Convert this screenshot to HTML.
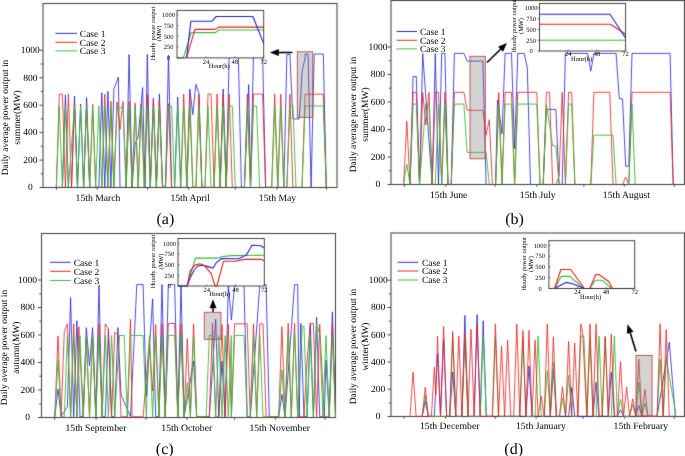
<!DOCTYPE html>
<html><head><meta charset="utf-8"><style>
html,body{margin:0;padding:0;background:#fff;}
svg{display:block;font-family:"Liberation Serif", serif;text-rendering:geometricPrecision;} text{}
</style></head><body>
<svg width="685" height="456" viewBox="0 0 685 456">
<defs><filter id="soft" x="0" y="0" width="685" height="456" filterUnits="userSpaceOnUse" color-interpolation-filters="sRGB"><feConvolveMatrix order="3" kernelMatrix="0.0100 0.0800 0.0100 0.0800 0.6400 0.0800 0.0100 0.0800 0.0100" divisor="1" edgeMode="duplicate"/></filter><filter id="ident" x="0" y="0" width="685" height="456" filterUnits="userSpaceOnUse"><feOffset dx="0" dy="0"/></filter></defs>
<g filter="url(#soft)">
<rect width="685" height="456" fill="#fff"/>
<polyline points="56.3,187.4 59.3,187.4 62.4,187.4 65.4,94.9 68.4,187.4 71.5,187.4 74.5,96.0 77.5,187.4 80.6,104.0 83.6,187.4 86.6,97.5 89.7,187.4 98.8,187.4 101.8,92.7 104.8,187.4 107.9,91.3 110.9,187.4 113.9,89.0 118.4,77.0 120.0,187.4 123.0,187.4 126.1,187.4 129.1,54.5 132.1,187.4 135.2,143.0 138.2,136.9 142.6,87.6 145.0,187.4 147.3,54.5 150.3,187.4 153.4,98.2 156.4,187.4 159.4,93.9 162.5,187.4 165.5,187.4 168.5,55.3 171.6,187.4 174.6,187.4 177.7,97.1 180.7,187.4 186.8,187.4 189.8,89.0 192.8,114.6 195.9,84.4 198.9,92.7 201.9,187.4 205.0,187.4 220.1,187.4 223.2,89.0 226.2,187.4 229.2,54.0 238.3,54.0 241.4,187.4 244.4,187.4 248.7,84.6 250.5,187.4 253.5,54.0 262.6,54.0 265.6,187.4 283.8,187.4 286.9,54.5 289.9,54.5 292.9,119.0 299.0,119.0 300.6,100.0 302.0,72.0 305.1,58.0 305.1,54.0 308.1,54.0 311.1,187.4 311.1,187.4 314.2,54.0 323.3,54.0 326.3,187.4" fill="none" stroke="#2020dd" stroke-width="0.8" stroke-linejoin="round"/>
<polyline points="56.3,187.4 59.3,94.2 62.4,94.2 65.4,187.4 68.4,94.2 71.5,187.4 74.5,103.0 77.5,187.4 83.6,187.4 86.6,103.0 89.7,187.4 92.7,104.3 95.7,187.4 101.8,187.4 104.8,94.2 107.9,187.4 110.9,101.2 113.9,187.4 117.0,102.0 120.0,129.4 123.0,101.4 126.1,187.4 129.1,101.2 132.1,187.4 135.2,103.1 138.2,187.4 141.2,103.9 144.3,187.4 147.3,94.3 150.3,187.4 153.4,99.0 156.4,187.4 159.4,100.0 162.5,187.4 165.5,184.5 168.5,103.7 171.6,187.4 180.7,187.4 183.7,94.2 186.8,187.4 189.8,94.2 192.8,187.4 195.9,187.4 198.9,94.2 201.9,187.4 205.0,187.4 208.0,94.0 211.0,94.0 214.1,187.4 217.1,94.0 220.1,187.4 223.2,94.0 226.2,187.4 229.2,94.0 232.3,187.4 244.4,187.4 247.4,94.0 250.5,187.4 253.5,94.0 262.6,94.0 265.6,187.4 271.7,187.4 274.7,94.2 277.8,187.4 280.8,94.2 283.8,187.4 286.9,187.4 289.9,94.2 292.9,187.4 302.0,187.4 305.1,94.2 323.3,94.2 326.3,187.4" fill="none" stroke="#ee1a1a" stroke-width="0.8" stroke-linejoin="round"/>
<polyline points="56.3,187.4 59.3,106.0 62.4,187.4 65.4,106.0 68.4,187.4 74.5,106.0 77.5,187.4 80.6,106.0 83.6,187.4 86.6,106.0 89.7,187.4 92.7,106.0 95.7,187.4 98.8,106.0 101.8,187.4 104.8,106.0 107.9,187.4 110.9,106.0 113.9,187.4 117.0,106.0 120.0,108.2 123.0,106.0 126.1,187.4 129.1,106.0 132.1,187.4 135.2,106.0 138.2,187.4 141.2,106.0 144.3,187.4 147.3,106.0 150.3,187.4 153.4,106.0 156.4,187.4 159.4,106.0 162.5,187.4 165.5,187.4 168.5,106.0 171.6,106.0 174.6,187.4 177.7,106.0 180.7,187.4 183.7,106.0 186.8,187.4 189.8,106.0 192.8,187.4 195.9,187.4 198.9,106.0 201.9,187.4 205.0,187.4 208.0,106.0 211.0,187.4 214.1,187.4 217.1,106.0 220.1,187.4 223.2,106.0 226.2,187.4 229.2,106.0 232.3,106.0 235.3,187.4 244.4,187.4 247.4,106.0 250.5,187.4 253.5,106.0 256.5,106.0 259.6,187.4 271.7,187.4 274.7,106.0 277.8,187.4 280.8,106.0 283.8,187.4 286.9,187.4 289.9,106.0 292.9,106.0 296.0,187.4 302.0,187.4 305.1,106.0 323.3,106.0 326.3,187.4" fill="none" stroke="#38bb38" stroke-width="0.9" stroke-linejoin="round"/>
<rect x="297.3" y="51.8" width="15.4" height="65.6" fill="#7a7a7a" fill-opacity="0.33" stroke="#c04848" stroke-width="0.9"/>
<rect x="43.0" y="3.5" width="294.0" height="184.0" fill="none" stroke="#4a4a4a" stroke-width="1.1"/>
<line x1="39.5" y1="187.5" x2="43.0" y2="187.5" stroke="#4a4a4a" stroke-width="1"/>
<line x1="40.8" y1="173.8" x2="43.0" y2="173.8" stroke="#4a4a4a" stroke-width="1"/>
<line x1="39.5" y1="160.1" x2="43.0" y2="160.1" stroke="#4a4a4a" stroke-width="1"/>
<line x1="40.8" y1="146.3" x2="43.0" y2="146.3" stroke="#4a4a4a" stroke-width="1"/>
<line x1="39.5" y1="132.6" x2="43.0" y2="132.6" stroke="#4a4a4a" stroke-width="1"/>
<line x1="40.8" y1="118.9" x2="43.0" y2="118.9" stroke="#4a4a4a" stroke-width="1"/>
<line x1="39.5" y1="105.2" x2="43.0" y2="105.2" stroke="#4a4a4a" stroke-width="1"/>
<line x1="40.8" y1="91.4" x2="43.0" y2="91.4" stroke="#4a4a4a" stroke-width="1"/>
<line x1="39.5" y1="77.7" x2="43.0" y2="77.7" stroke="#4a4a4a" stroke-width="1"/>
<line x1="40.8" y1="64.0" x2="43.0" y2="64.0" stroke="#4a4a4a" stroke-width="1"/>
<line x1="39.5" y1="50.3" x2="43.0" y2="50.3" stroke="#4a4a4a" stroke-width="1"/>
<line x1="56.4" y1="187.5" x2="56.4" y2="189.7" stroke="#4a4a4a" stroke-width="1"/>
<line x1="97.2" y1="187.5" x2="97.2" y2="189.7" stroke="#4a4a4a" stroke-width="1"/>
<line x1="147.5" y1="187.5" x2="147.5" y2="189.7" stroke="#4a4a4a" stroke-width="1"/>
<line x1="188.5" y1="187.5" x2="188.5" y2="189.7" stroke="#4a4a4a" stroke-width="1"/>
<line x1="235.4" y1="187.5" x2="235.4" y2="189.7" stroke="#4a4a4a" stroke-width="1"/>
<line x1="277.0" y1="187.5" x2="277.0" y2="189.7" stroke="#4a4a4a" stroke-width="1"/>
<line x1="326.5" y1="187.5" x2="326.5" y2="189.7" stroke="#4a4a4a" stroke-width="1"/>
<rect x="177.0" y="10.4" width="86.69999999999999" height="47.5" fill="#fff"/>
<polyline points="177.0,57.9 183.3,57.9 191.2,32.6 215.5,32.6 218.7,30.0 263.7,30.0" fill="none" stroke="#38bb38" stroke-width="1.1" stroke-linejoin="round"/>
<polyline points="186.5,57.9 195.0,29.4 215.0,29.4 218.7,27.1 263.7,27.1" fill="none" stroke="#ee1a1a" stroke-width="1.1" stroke-linejoin="round"/>
<polyline points="186.5,57.9 190.9,21.3 211.7,21.3 216.3,16.5 252.9,16.5 263.7,43.6" fill="none" stroke="#2020dd" stroke-width="1.1" stroke-linejoin="round"/>
<line x1="177.0" y1="57.9" x2="178.5" y2="57.9" stroke="#333" stroke-width="0.7"/>
<line x1="177.0" y1="47.1" x2="178.5" y2="47.1" stroke="#333" stroke-width="0.7"/>
<line x1="177.0" y1="36.4" x2="178.5" y2="36.4" stroke="#333" stroke-width="0.7"/>
<line x1="177.0" y1="25.6" x2="178.5" y2="25.6" stroke="#333" stroke-width="0.7"/>
<line x1="177.0" y1="14.8" x2="178.5" y2="14.8" stroke="#333" stroke-width="0.7"/>
<line x1="205.9" y1="57.9" x2="205.9" y2="56.4" stroke="#333" stroke-width="0.7"/>
<line x1="234.8" y1="57.9" x2="234.8" y2="56.4" stroke="#333" stroke-width="0.7"/>
<line x1="263.7" y1="57.9" x2="263.7" y2="56.4" stroke="#333" stroke-width="0.7"/>
<rect x="177.0" y="10.4" width="86.7" height="47.5" fill="none" stroke="#333" stroke-width="0.9"/>
<line x1="292.3" y1="52.5" x2="278.8" y2="52.5" stroke="#000" stroke-width="1.6"/><polygon points="269.8,52.5 278.8,49.0 278.8,56.0" fill="#000"/>
<line x1="55.4" y1="33.4" x2="77" y2="33.4" stroke="#2020dd" stroke-width="0.95"/>
<line x1="55.4" y1="42.3" x2="77" y2="42.3" stroke="#ee1a1a" stroke-width="0.95"/>
<line x1="55.4" y1="50.9" x2="77" y2="50.9" stroke="#38bb38" stroke-width="0.95"/>
<polyline points="403.6,184.5 410.0,184.5 413.1,76.5 416.3,76.5 419.5,184.5 422.7,53.4 432.2,184.5 435.3,53.4 438.5,184.5 441.7,53.4 444.9,53.4 448.0,184.5 451.2,184.5 454.4,53.4 463.9,53.4 467.1,61.1 482.9,61.1 486.1,184.5 495.6,184.5 497.5,100.0 502.0,133.7 505.1,53.4 511.5,53.4 514.6,148.5 517.8,53.4 524.2,53.4 527.3,68.0 530.5,184.5 543.2,184.5 546.4,109.4 555.9,109.4 559.1,184.5 562.2,184.5 565.4,53.4 587.6,53.4 590.8,71.1 593.9,53.4 616.1,53.4 619.3,98.8 622.5,98.8 625.7,166.3 628.8,166.3 632.0,53.4 670.1,53.4 673.2,184.5" fill="none" stroke="#2020dd" stroke-width="0.8" stroke-linejoin="round"/>
<polyline points="403.6,184.5 406.8,121.2 410.0,184.5 413.1,92.3 416.3,92.3 419.5,184.5 422.7,92.3 425.8,125.0 429.0,92.3 432.2,184.5 435.3,92.3 438.5,92.3 441.7,184.5 444.9,92.3 448.0,184.5 451.2,184.5 454.4,92.3 463.9,92.3 467.1,110.3 482.9,110.3 486.1,135.2 489.3,119.7 492.4,184.5 495.6,184.5 498.8,92.6 502.0,184.5 505.1,92.3 511.5,92.3 514.6,184.5 517.8,92.3 536.8,92.3 540.0,184.5 543.2,184.5 546.4,92.3 549.5,92.3 552.7,184.5 555.9,184.5 559.1,176.0 562.2,92.3 565.4,184.5 568.6,92.3 571.7,92.3 574.9,184.5 590.8,184.5 593.9,92.3 609.8,92.3 613.0,184.5 622.5,184.5 625.7,177.0 628.8,184.5 628.8,184.5 632.0,92.3 670.1,92.3 673.2,184.5" fill="none" stroke="#ee1a1a" stroke-width="0.8" stroke-linejoin="round"/>
<polyline points="403.6,184.5 406.8,164.0 410.0,184.5 413.1,104.1 416.3,104.1 419.5,184.5 425.8,104.1 429.0,104.1 432.2,184.5 435.3,184.5 438.5,104.1 441.7,184.5 444.9,104.1 448.0,184.5 451.2,184.5 454.4,104.1 463.9,104.1 467.1,152.4 486.1,152.4 489.3,184.5 495.6,184.5 498.8,104.1 502.0,184.5 505.1,104.1 511.5,104.1 514.6,184.5 517.8,104.1 536.8,104.1 540.0,184.5 543.2,184.5 546.4,104.1 552.7,145.9 555.9,145.9 559.1,184.5 565.4,184.5 568.6,104.1 571.7,104.1 574.9,184.5 590.8,184.5 593.9,135.2 613.0,135.2 616.1,184.5 628.8,184.5 632.0,104.1 635.2,184.5" fill="none" stroke="#38bb38" stroke-width="0.9" stroke-linejoin="round"/>
<rect x="470" y="56.3" width="15.3" height="102.5" fill="#7a7a7a" fill-opacity="0.33" stroke="#c04848" stroke-width="0.9"/>
<rect x="391.0" y="0.5" width="293.5" height="184.0" fill="none" stroke="#4a4a4a" stroke-width="1.1"/>
<line x1="387.5" y1="184.5" x2="391.0" y2="184.5" stroke="#4a4a4a" stroke-width="1"/>
<line x1="388.8" y1="170.8" x2="391.0" y2="170.8" stroke="#4a4a4a" stroke-width="1"/>
<line x1="387.5" y1="157.0" x2="391.0" y2="157.0" stroke="#4a4a4a" stroke-width="1"/>
<line x1="388.8" y1="143.2" x2="391.0" y2="143.2" stroke="#4a4a4a" stroke-width="1"/>
<line x1="387.5" y1="129.5" x2="391.0" y2="129.5" stroke="#4a4a4a" stroke-width="1"/>
<line x1="388.8" y1="115.8" x2="391.0" y2="115.8" stroke="#4a4a4a" stroke-width="1"/>
<line x1="387.5" y1="102.0" x2="391.0" y2="102.0" stroke="#4a4a4a" stroke-width="1"/>
<line x1="388.8" y1="88.2" x2="391.0" y2="88.2" stroke="#4a4a4a" stroke-width="1"/>
<line x1="387.5" y1="74.5" x2="391.0" y2="74.5" stroke="#4a4a4a" stroke-width="1"/>
<line x1="388.8" y1="60.7" x2="391.0" y2="60.7" stroke="#4a4a4a" stroke-width="1"/>
<line x1="387.5" y1="47.0" x2="391.0" y2="47.0" stroke="#4a4a4a" stroke-width="1"/>
<line x1="404.5" y1="184.5" x2="404.5" y2="186.7" stroke="#4a4a4a" stroke-width="1"/>
<line x1="445.8" y1="184.5" x2="445.8" y2="186.7" stroke="#4a4a4a" stroke-width="1"/>
<line x1="495.0" y1="184.5" x2="495.0" y2="186.7" stroke="#4a4a4a" stroke-width="1"/>
<line x1="536.9" y1="184.5" x2="536.9" y2="186.7" stroke="#4a4a4a" stroke-width="1"/>
<line x1="583.9" y1="184.5" x2="583.9" y2="186.7" stroke="#4a4a4a" stroke-width="1"/>
<line x1="624.3" y1="184.5" x2="624.3" y2="186.7" stroke="#4a4a4a" stroke-width="1"/>
<line x1="674.4" y1="184.5" x2="674.4" y2="186.7" stroke="#4a4a4a" stroke-width="1"/>
<rect x="539.5" y="3.4" width="86.10000000000002" height="47.6" fill="#fff"/>
<polyline points="539.5,40.2 625.6,40.2" fill="none" stroke="#38bb38" stroke-width="1.1" stroke-linejoin="round"/>
<polyline points="539.5,24.3 610.4,24.3 625.6,34.2" fill="none" stroke="#ee1a1a" stroke-width="1.1" stroke-linejoin="round"/>
<polyline points="539.5,14.2 610.0,14.2 625.6,38.0" fill="none" stroke="#2020dd" stroke-width="1.1" stroke-linejoin="round"/>
<line x1="537.5" y1="51.0" x2="539.5" y2="51.0" stroke="#333" stroke-width="0.7"/>
<line x1="537.5" y1="40.2" x2="539.5" y2="40.2" stroke="#333" stroke-width="0.7"/>
<line x1="537.5" y1="29.5" x2="539.5" y2="29.5" stroke="#333" stroke-width="0.7"/>
<line x1="537.5" y1="18.8" x2="539.5" y2="18.8" stroke="#333" stroke-width="0.7"/>
<line x1="537.5" y1="8.0" x2="539.5" y2="8.0" stroke="#333" stroke-width="0.7"/>
<line x1="568.2" y1="51.0" x2="568.2" y2="49.5" stroke="#333" stroke-width="0.7"/>
<line x1="596.9" y1="51.0" x2="596.9" y2="49.5" stroke="#333" stroke-width="0.7"/>
<line x1="625.6" y1="51.0" x2="625.6" y2="49.5" stroke="#333" stroke-width="0.7"/>
<rect x="539.5" y="3.4" width="86.1" height="47.6" fill="none" stroke="#333" stroke-width="0.9"/>
<line x1="487.0" y1="62.5" x2="500.6" y2="49.3" stroke="#000" stroke-width="1.6"/><polygon points="507.0,43.0 503.0,51.8 498.1,46.8" fill="#000"/>
<line x1="396.5" y1="31.5" x2="417" y2="31.5" stroke="#2020dd" stroke-width="0.95"/>
<line x1="396.5" y1="40.3" x2="417" y2="40.3" stroke="#ee1a1a" stroke-width="0.95"/>
<line x1="396.5" y1="48.9" x2="417" y2="48.9" stroke="#38bb38" stroke-width="0.95"/>
<rect x="41.5" y="233.5" width="294.0" height="184.0" fill="none" stroke="#4a4a4a" stroke-width="1.1"/>
<polyline points="54.8,416.7 58.0,389.1 61.1,416.2 67.4,406.8 70.6,297.6 73.7,416.7 76.9,320.7 80.0,416.7 83.2,416.7 86.3,327.6 89.5,365.8 92.6,327.6 95.8,416.7 99.0,285.1 102.1,416.7 105.3,416.7 108.4,329.1 111.6,416.7 114.7,416.7 117.9,327.6 121.0,394.7 130.5,416.7 136.8,284.6 143.1,284.6 146.3,396.6 152.6,298.9 155.7,416.7 158.9,416.7 162.0,284.6 165.2,416.7 168.3,284.6 174.7,284.6 177.8,416.7 181.0,284.6 184.1,416.7 193.6,361.1 196.7,416.7 206.2,416.7 209.3,416.7 215.7,319.2 218.8,416.7 222.0,361.0 225.1,416.7 228.3,284.6 231.4,319.9 234.6,284.6 244.0,284.6 247.2,416.7 250.3,416.7 259.8,284.6 266.1,284.6 269.3,416.7 278.7,416.7 281.9,394.4 285.0,416.7 294.5,284.6 297.7,284.6 299.2,416.7 300.8,323.4 304.0,416.7 307.1,416.7 310.3,323.4 313.4,416.7 316.6,317.3 319.7,416.7 324.3,416.7 326.0,360.0 329.2,416.7 332.4,311.9 335.5,416.7" fill="none" stroke="#2020dd" stroke-width="0.8" stroke-linejoin="round"/>
<polyline points="54.8,416.7 58.0,336.0 61.1,416.7 64.3,331.4 67.4,323.8 70.6,416.7 73.7,323.8 76.9,416.7 78.8,326.8 83.2,416.7 86.3,336.0 89.5,416.7 92.6,336.0 95.8,416.7 99.0,323.8 102.1,416.7 105.3,323.8 108.4,329.0 111.6,416.7 114.7,332.2 117.9,335.3 121.0,416.7 127.3,416.7 130.5,319.2 132.1,416.7 143.1,416.7 149.4,340.6 152.6,391.0 155.7,324.5 158.9,416.7 162.0,323.8 165.2,416.7 168.3,323.5 174.7,323.5 177.8,416.7 181.0,323.8 184.1,416.7 187.3,338.7 190.4,413.4 193.6,323.8 196.7,416.7 209.3,416.7 212.5,323.0 215.7,416.7 218.8,416.7 222.0,324.5 225.1,416.7 228.3,324.5 231.4,416.7 234.6,323.8 247.2,323.8 250.3,416.7 253.5,323.8 256.7,416.7 259.8,323.8 263.0,323.8 266.1,416.7 278.7,416.7 281.9,326.8 285.0,416.7 288.2,323.4 291.3,416.7 294.5,323.4 297.7,416.7 304.0,416.7 307.1,360.0 310.3,323.4 313.4,323.4 316.6,416.7 319.7,324.2 324.3,416.7 329.2,416.7 332.4,324.2 335.5,416.7" fill="none" stroke="#ee1a1a" stroke-width="0.8" stroke-linejoin="round"/>
<polyline points="54.8,416.7 58.0,359.3 61.1,416.7 64.3,416.7 67.4,335.5 70.6,416.7 73.7,335.5 76.9,416.7 80.0,335.5 83.2,416.7 86.3,335.5 89.5,416.7 92.6,335.5 95.8,416.7 99.0,335.5 102.1,416.7 105.3,335.5 108.4,416.7 111.6,335.5 114.7,416.7 119.5,335.5 124.2,335.5 127.3,416.7 130.5,335.5 143.1,335.5 146.3,416.7 149.4,335.5 152.6,416.7 155.7,335.5 158.9,416.7 162.0,335.5 165.2,416.7 168.3,335.5 174.7,335.5 177.8,416.7 181.0,335.5 184.1,416.7 187.3,382.6 190.4,416.7 193.6,335.5 196.7,416.7 206.2,416.7 209.3,335.5 212.5,335.5 215.7,416.7 218.8,335.5 222.0,416.7 225.1,335.5 228.3,416.7 231.4,335.5 231.4,416.7 234.6,335.5 244.0,335.5 247.2,416.7 250.3,416.7 253.5,335.5 256.7,416.7 259.8,335.5 263.0,416.7 278.7,416.7 281.9,369.8 285.0,416.7 288.2,335.5 291.3,416.7 294.5,331.0 297.7,416.7 302.2,326.5 304.0,326.5 307.1,416.7 310.3,335.5 313.4,416.7 316.6,323.4 319.7,334.2 322.9,416.7 326.0,335.7 329.2,416.7 332.4,335.5 335.5,416.7" fill="none" stroke="#38bb38" stroke-width="0.9" stroke-linejoin="round"/>
<rect x="204.3" y="312.3" width="16.7" height="27.0" fill="#7a7a7a" fill-opacity="0.33" stroke="#c04848" stroke-width="0.9"/>
<line x1="38.0" y1="417.5" x2="41.5" y2="417.5" stroke="#4a4a4a" stroke-width="1"/>
<line x1="39.3" y1="403.8" x2="41.5" y2="403.8" stroke="#4a4a4a" stroke-width="1"/>
<line x1="38.0" y1="390.0" x2="41.5" y2="390.0" stroke="#4a4a4a" stroke-width="1"/>
<line x1="39.3" y1="376.2" x2="41.5" y2="376.2" stroke="#4a4a4a" stroke-width="1"/>
<line x1="38.0" y1="362.5" x2="41.5" y2="362.5" stroke="#4a4a4a" stroke-width="1"/>
<line x1="39.3" y1="348.8" x2="41.5" y2="348.8" stroke="#4a4a4a" stroke-width="1"/>
<line x1="38.0" y1="335.0" x2="41.5" y2="335.0" stroke="#4a4a4a" stroke-width="1"/>
<line x1="39.3" y1="321.2" x2="41.5" y2="321.2" stroke="#4a4a4a" stroke-width="1"/>
<line x1="38.0" y1="307.5" x2="41.5" y2="307.5" stroke="#4a4a4a" stroke-width="1"/>
<line x1="39.3" y1="293.8" x2="41.5" y2="293.8" stroke="#4a4a4a" stroke-width="1"/>
<line x1="38.0" y1="280.0" x2="41.5" y2="280.0" stroke="#4a4a4a" stroke-width="1"/>
<line x1="54.7" y1="417.5" x2="54.7" y2="419.7" stroke="#4a4a4a" stroke-width="1"/>
<line x1="96.1" y1="417.5" x2="96.1" y2="419.7" stroke="#4a4a4a" stroke-width="1"/>
<line x1="145.9" y1="417.5" x2="145.9" y2="419.7" stroke="#4a4a4a" stroke-width="1"/>
<line x1="187.0" y1="417.5" x2="187.0" y2="419.7" stroke="#4a4a4a" stroke-width="1"/>
<line x1="234.5" y1="417.5" x2="234.5" y2="419.7" stroke="#4a4a4a" stroke-width="1"/>
<line x1="275.4" y1="417.5" x2="275.4" y2="419.7" stroke="#4a4a4a" stroke-width="1"/>
<line x1="325.1" y1="417.5" x2="325.1" y2="419.7" stroke="#4a4a4a" stroke-width="1"/>
<rect x="178.0" y="238.5" width="86.30000000000001" height="47.5" fill="#fff"/>
<polyline points="178.0,286.0 187.1,286.0 195.4,258.1 217.8,258.1 222.5,256.6 231.1,255.6 264.3,255.2" fill="none" stroke="#38bb38" stroke-width="1.1" stroke-linejoin="round"/>
<polyline points="178.0,286.0 187.1,286.0 190.3,277.4 194.0,270.5 197.9,266.0 202.6,265.1 211.2,267.6 213.1,268.0 215.9,263.2 221.6,258.5 238.7,258.8 246.3,255.0 252.0,245.2 260.5,245.7 264.3,248.0" fill="none" stroke="#2020dd" stroke-width="1.1" stroke-linejoin="round"/>
<polyline points="187.1,286.0 190.3,270.8 195.0,265.1 199.8,263.8 204.5,265.7 211.2,273.6 215.0,286.0 216.9,286.0 223.5,261.3 234.9,261.3 244.4,259.4 261.4,259.4 264.3,260.7" fill="none" stroke="#ee1a1a" stroke-width="1.1" stroke-linejoin="round"/>
<line x1="178.0" y1="286.0" x2="179.5" y2="286.0" stroke="#333" stroke-width="0.7"/>
<line x1="178.0" y1="275.3" x2="179.5" y2="275.3" stroke="#333" stroke-width="0.7"/>
<line x1="178.0" y1="264.6" x2="179.5" y2="264.6" stroke="#333" stroke-width="0.7"/>
<line x1="178.0" y1="254.0" x2="179.5" y2="254.0" stroke="#333" stroke-width="0.7"/>
<line x1="178.0" y1="243.3" x2="179.5" y2="243.3" stroke="#333" stroke-width="0.7"/>
<line x1="206.8" y1="286.0" x2="206.8" y2="284.5" stroke="#333" stroke-width="0.7"/>
<line x1="235.5" y1="286.0" x2="235.5" y2="284.5" stroke="#333" stroke-width="0.7"/>
<line x1="264.3" y1="286.0" x2="264.3" y2="284.5" stroke="#333" stroke-width="0.7"/>
<rect x="178.0" y="238.5" width="86.3" height="47.5" fill="none" stroke="#333" stroke-width="0.9"/>
<line x1="213.0" y1="311.8" x2="213.0" y2="308.3" stroke="#000" stroke-width="1.6"/><polygon points="213.0,299.3 216.5,308.3 209.5,308.3" fill="#000"/>
<line x1="50" y1="262.3" x2="70.75" y2="262.3" stroke="#2020dd" stroke-width="0.95"/>
<line x1="50" y1="271.3" x2="70.75" y2="271.3" stroke="#ee1a1a" stroke-width="0.95"/>
<line x1="50" y1="280.5" x2="70.75" y2="280.5" stroke="#38bb38" stroke-width="0.95"/>
<rect x="391.0" y="233.0" width="293.5" height="183.5" fill="none" stroke="#4a4a4a" stroke-width="1.1"/>
<polyline points="422.2,416.3 425.3,401.5 428.3,416.3 434.4,416.3 437.5,353.8 440.5,416.3 443.6,339.2 446.6,416.3 449.7,416.3 452.7,372.0 455.8,416.3 461.9,416.3 464.9,315.4 468.0,416.3 474.1,416.3 477.1,314.6 480.2,416.3 483.2,320.7 486.3,416.3 525.9,416.3 529.0,366.0 532.0,416.3 550.3,416.3 553.4,369.2 556.4,416.3 568.6,416.3 571.7,387.6 574.7,416.3 593.0,416.3 596.1,382.3 599.1,416.3 608.3,416.3 611.3,372.3 614.4,416.3 617.4,416.3 620.5,409.9 623.5,416.3 635.7,416.3 638.8,405.3 641.8,416.3 657.1,416.3 669.3,342.2 675.4,416.3" fill="none" stroke="#2020dd" stroke-width="0.8" stroke-linejoin="round"/>
<polyline points="422.2,416.3 425.3,395.3 428.3,416.3 449.7,416.3 452.7,336.9 455.8,416.3 461.9,416.3 464.9,335.3 468.0,416.3 480.2,416.3 483.2,336.1 486.3,416.3 492.4,416.3 495.4,336.9 498.5,416.3 519.8,416.3 522.9,336.9 525.9,416.3 535.1,416.3 538.1,336.1 541.2,416.3 544.2,416.3 547.3,370.7 550.3,416.3 553.4,362.2 556.4,416.3 559.5,416.3 562.5,397.9 565.6,416.3 568.6,375.3 571.7,416.3 577.8,416.3 580.8,336.1 583.9,336.1 586.9,416.3 590.0,340.2 593.0,416.3 596.1,416.3 599.1,336.1 602.2,416.3 605.2,336.1 608.3,416.3 611.3,416.3 614.4,336.1 617.4,416.3 620.5,399.2 623.5,416.3 629.6,416.3 632.7,404.5 635.7,416.3 638.8,382.3 641.8,416.3 644.9,403.0 647.9,416.3 657.1,416.3 660.1,359.2 663.2,416.3 666.2,359.2 675.4,411.4 675.4,416.3" fill="none" stroke="#38bb38" stroke-width="0.9" stroke-linejoin="round"/>
<polyline points="410.0,416.3 413.1,372.3 416.1,416.3 422.2,416.3 425.3,387.3 428.3,416.3 431.4,416.3 434.4,367.2 435.8,395.0 437.5,336.1 440.5,416.3 443.6,326.4 446.6,416.3 449.7,416.3 452.7,331.5 455.8,416.3 458.8,336.1 461.9,416.3 464.9,333.8 468.0,416.3 471.0,329.2 474.1,416.3 477.1,323.8 480.2,416.3 492.4,416.3 495.4,323.8 498.5,416.3 501.5,346.1 504.6,416.3 507.6,340.2 510.7,416.3 513.7,416.3 516.8,323.8 519.8,416.3 522.9,330.4 525.9,416.3 529.0,330.4 532.0,416.3 535.1,340.2 538.1,416.3 541.2,396.1 544.2,416.3 547.3,323.8 550.3,416.3 553.4,336.9 556.4,416.3 559.5,416.3 562.5,386.6 565.6,416.3 568.6,341.5 571.7,416.3 574.7,343.0 577.8,416.3 580.8,323.8 582.6,332.3 586.9,416.3 590.0,323.8 593.0,416.3 596.1,323.8 599.1,416.3 602.2,416.3 605.2,336.9 608.3,416.3 611.3,334.1 614.4,416.3 617.4,416.3 620.5,361.5 623.5,416.3 626.6,386.9 629.6,416.3 632.7,398.8 635.7,416.3 638.8,359.2 641.8,416.3 644.9,389.6 647.9,416.3 657.1,416.3 660.1,323.8 663.2,416.3 666.2,329.5 669.3,416.3 675.4,416.3" fill="none" stroke="#ee1a1a" stroke-width="0.8" stroke-linejoin="round"/>
<rect x="636" y="355.4" width="16.1" height="60.6" fill="#7a7a7a" fill-opacity="0.33" stroke="#c04848" stroke-width="0.9"/>
<line x1="387.5" y1="416.5" x2="391.0" y2="416.5" stroke="#4a4a4a" stroke-width="1"/>
<line x1="388.8" y1="402.9" x2="391.0" y2="402.9" stroke="#4a4a4a" stroke-width="1"/>
<line x1="387.5" y1="389.2" x2="391.0" y2="389.2" stroke="#4a4a4a" stroke-width="1"/>
<line x1="388.8" y1="375.6" x2="391.0" y2="375.6" stroke="#4a4a4a" stroke-width="1"/>
<line x1="387.5" y1="362.0" x2="391.0" y2="362.0" stroke="#4a4a4a" stroke-width="1"/>
<line x1="388.8" y1="348.4" x2="391.0" y2="348.4" stroke="#4a4a4a" stroke-width="1"/>
<line x1="387.5" y1="334.8" x2="391.0" y2="334.8" stroke="#4a4a4a" stroke-width="1"/>
<line x1="388.8" y1="321.1" x2="391.0" y2="321.1" stroke="#4a4a4a" stroke-width="1"/>
<line x1="387.5" y1="307.5" x2="391.0" y2="307.5" stroke="#4a4a4a" stroke-width="1"/>
<line x1="388.8" y1="293.9" x2="391.0" y2="293.9" stroke="#4a4a4a" stroke-width="1"/>
<line x1="387.5" y1="280.2" x2="391.0" y2="280.2" stroke="#4a4a4a" stroke-width="1"/>
<line x1="404.2" y1="416.5" x2="404.2" y2="418.7" stroke="#4a4a4a" stroke-width="1"/>
<line x1="445.6" y1="416.5" x2="445.6" y2="418.7" stroke="#4a4a4a" stroke-width="1"/>
<line x1="495.3" y1="416.5" x2="495.3" y2="418.7" stroke="#4a4a4a" stroke-width="1"/>
<line x1="536.0" y1="416.5" x2="536.0" y2="418.7" stroke="#4a4a4a" stroke-width="1"/>
<line x1="583.0" y1="416.5" x2="583.0" y2="418.7" stroke="#4a4a4a" stroke-width="1"/>
<line x1="624.4" y1="416.5" x2="624.4" y2="418.7" stroke="#4a4a4a" stroke-width="1"/>
<line x1="674.2" y1="416.5" x2="674.2" y2="418.7" stroke="#4a4a4a" stroke-width="1"/>
<rect x="548.9" y="240.7" width="85.80000000000007" height="47.80000000000001" fill="#fff"/>
<polyline points="548.9,288.5 554.6,288.5 561.2,276.4 569.8,276.4 584.0,288.5 589.7,288.5 595.4,280.2 602.0,280.2 611.5,288.5" fill="none" stroke="#38bb38" stroke-width="1.1" stroke-linejoin="round"/>
<polyline points="554.6,288.5 560.9,269.5 570.7,269.5 584.4,288.5 589.7,288.5 595.8,274.5 598.8,274.5 608.7,281.5 612.5,288.5" fill="none" stroke="#ee1a1a" stroke-width="1.1" stroke-linejoin="round"/>
<polyline points="554.6,288.5 566.0,282.4 572.6,283.8 584.0,288.5 634.7,288.5" fill="none" stroke="#2020dd" stroke-width="1.1" stroke-linejoin="round"/>
<line x1="548.9" y1="288.5" x2="550.4" y2="288.5" stroke="#333" stroke-width="0.7"/>
<line x1="548.9" y1="277.7" x2="550.4" y2="277.7" stroke="#333" stroke-width="0.7"/>
<line x1="548.9" y1="266.9" x2="550.4" y2="266.9" stroke="#333" stroke-width="0.7"/>
<line x1="548.9" y1="256.2" x2="550.4" y2="256.2" stroke="#333" stroke-width="0.7"/>
<line x1="548.9" y1="245.4" x2="550.4" y2="245.4" stroke="#333" stroke-width="0.7"/>
<line x1="577.5" y1="288.5" x2="577.5" y2="287.0" stroke="#333" stroke-width="0.7"/>
<line x1="606.1" y1="288.5" x2="606.1" y2="287.0" stroke="#333" stroke-width="0.7"/>
<line x1="634.7" y1="288.5" x2="634.7" y2="287.0" stroke="#333" stroke-width="0.7"/>
<rect x="548.9" y="240.7" width="85.8" height="47.8" fill="none" stroke="#333" stroke-width="0.9"/>
<line x1="636.0" y1="351.6" x2="630.2" y2="332.8" stroke="#000" stroke-width="1.6"/><polygon points="627.5,324.2 633.5,331.8 626.8,333.8" fill="#000"/>
<line x1="397.5" y1="262.3" x2="418.25" y2="262.3" stroke="#2020dd" stroke-width="0.95"/>
<line x1="397.5" y1="271" x2="418.25" y2="271" stroke="#ee1a1a" stroke-width="0.95"/>
<line x1="397.5" y1="280" x2="418.25" y2="280" stroke="#38bb38" stroke-width="0.95"/>

</g>
<g filter="url(#ident)">
<text x="30.3" y="190.3" text-anchor="middle" font-size="9.5">0</text>
<text x="30.3" y="162.9" text-anchor="middle" font-size="9.5">200</text>
<text x="30.3" y="135.4" text-anchor="middle" font-size="9.5">400</text>
<text x="30.3" y="108.0" text-anchor="middle" font-size="9.5">600</text>
<text x="30.3" y="80.5" text-anchor="middle" font-size="9.5">800</text>
<text x="30.3" y="53.1" text-anchor="middle" font-size="9.5">1000</text>
<text x="98.0" y="200.5" text-anchor="middle" font-size="9.7">15th March</text>
<text x="190.2" y="200.5" text-anchor="middle" font-size="9.7">15th April</text>
<text x="277.5" y="200.5" text-anchor="middle" font-size="9.7">15th May</text>
<text transform="translate(8.3,117.5) rotate(-90)" text-anchor="middle" font-size="9.5">Daily average power output in</text>
<text transform="translate(20.1,117.5) rotate(-90)" text-anchor="middle" font-size="9.5">summer(MW)</text>
<text x="165.4" y="223.8" text-anchor="middle" font-size="16">(a)</text>
<text x="168.6" y="60.1" text-anchor="middle" font-size="6.5">0</text>
<text x="168.6" y="49.3" text-anchor="middle" font-size="6.5">250</text>
<text x="168.6" y="38.6" text-anchor="middle" font-size="6.5">500</text>
<text x="168.6" y="27.8" text-anchor="middle" font-size="6.5">750</text>
<text x="168.6" y="17.0" text-anchor="middle" font-size="6.5">1000</text>
<text x="205.9" y="63.6" text-anchor="middle" font-size="6.5">24</text>
<text x="234.8" y="63.6" text-anchor="middle" font-size="6.5">48</text>
<text x="263.7" y="63.6" text-anchor="middle" font-size="6.5">72</text>
<text x="219.3" y="68.3" text-anchor="middle" font-size="6.5">Hour(h)</text>
<text transform="translate(155.0,33.5) rotate(-90)" text-anchor="middle" font-size="6.4">Hourly power output</text>
<text transform="translate(161.4,33.5) rotate(-90)" text-anchor="middle" font-size="6.4">(MW)</text>
<text x="79.8" y="36.7" font-size="9.5">Case 1</text>
<text x="79.8" y="45.6" font-size="9.5">Case 2</text>
<text x="79.8" y="54.2" font-size="9.5">Case 3</text>
<text x="377.9" y="187.3" text-anchor="middle" font-size="9.5">0</text>
<text x="377.9" y="159.8" text-anchor="middle" font-size="9.5">200</text>
<text x="377.9" y="132.3" text-anchor="middle" font-size="9.5">400</text>
<text x="377.9" y="104.8" text-anchor="middle" font-size="9.5">600</text>
<text x="377.9" y="77.3" text-anchor="middle" font-size="9.5">800</text>
<text x="377.9" y="49.8" text-anchor="middle" font-size="9.5">1000</text>
<text x="448.7" y="197.5" text-anchor="middle" font-size="9.7">15th June</text>
<text x="537.7" y="197.5" text-anchor="middle" font-size="9.7">15th July</text>
<text x="626.4" y="197.5" text-anchor="middle" font-size="9.7">15th August</text>
<text transform="translate(356.3,114.6) rotate(-90)" text-anchor="middle" font-size="9.5">Daily average power output in</text>
<text transform="translate(368.1,114.6) rotate(-90)" text-anchor="middle" font-size="9.5">summer(MW)</text>
<text x="514.6" y="223.7" text-anchor="middle" font-size="16">(b)</text>
<text x="531.0" y="53.2" text-anchor="middle" font-size="6.5">0</text>
<text x="531.0" y="42.5" text-anchor="middle" font-size="6.5">250</text>
<text x="531.0" y="31.7" text-anchor="middle" font-size="6.5">500</text>
<text x="531.0" y="20.9" text-anchor="middle" font-size="6.5">750</text>
<text x="531.0" y="10.2" text-anchor="middle" font-size="6.5">1000</text>
<text x="568.2" y="56.0" text-anchor="middle" font-size="6.5">24</text>
<text x="596.9" y="56.0" text-anchor="middle" font-size="6.5">48</text>
<text x="625.6" y="56.0" text-anchor="middle" font-size="6.5">72</text>
<text x="581.6" y="60.7" text-anchor="middle" font-size="6.5">Hour(h)</text>
<text transform="translate(515.5,26.0) rotate(-90)" text-anchor="middle" font-size="6.4">Hourly power output</text>
<text transform="translate(523.3,26.0) rotate(-90)" text-anchor="middle" font-size="6.4">(MW)</text>
<text x="420" y="34.8" font-size="9.5">Case 1</text>
<text x="420" y="43.6" font-size="9.5">Case 2</text>
<text x="420" y="52.2" font-size="9.5">Case 3</text>
<text x="27.5" y="420.3" text-anchor="middle" font-size="9.5">0</text>
<text x="27.5" y="392.8" text-anchor="middle" font-size="9.5">200</text>
<text x="27.5" y="365.3" text-anchor="middle" font-size="9.5">400</text>
<text x="27.5" y="337.8" text-anchor="middle" font-size="9.5">600</text>
<text x="27.5" y="310.3" text-anchor="middle" font-size="9.5">800</text>
<text x="27.5" y="282.8" text-anchor="middle" font-size="9.5">1000</text>
<text x="96.0" y="430.5" text-anchor="middle" font-size="9.7">15th September</text>
<text x="186.8" y="430.5" text-anchor="middle" font-size="9.7">15th October</text>
<text x="279.7" y="430.5" text-anchor="middle" font-size="9.7">15th November</text>
<text transform="translate(6.8,347.6) rotate(-90)" text-anchor="middle" font-size="9.5">Daily average power output in</text>
<text transform="translate(18.6,347.6) rotate(-90)" text-anchor="middle" font-size="9.5">autumn(MW)</text>
<text x="164.7" y="454.0" text-anchor="middle" font-size="16">(c)</text>
<text x="169.4" y="288.2" text-anchor="middle" font-size="6.5">0</text>
<text x="169.4" y="277.5" text-anchor="middle" font-size="6.5">250</text>
<text x="169.4" y="266.8" text-anchor="middle" font-size="6.5">500</text>
<text x="169.4" y="256.2" text-anchor="middle" font-size="6.5">750</text>
<text x="169.4" y="245.5" text-anchor="middle" font-size="6.5">1000</text>
<text x="206.8" y="291.7" text-anchor="middle" font-size="6.5">24</text>
<text x="235.5" y="291.7" text-anchor="middle" font-size="6.5">48</text>
<text x="264.3" y="291.7" text-anchor="middle" font-size="6.5">72</text>
<text x="219.7" y="295.5" text-anchor="middle" font-size="6.5">Hour(h)</text>
<text transform="translate(155.2,261.5) rotate(-90)" text-anchor="middle" font-size="6.4">Hourly power output</text>
<text transform="translate(162.8,261.5) rotate(-90)" text-anchor="middle" font-size="6.4">(MW)</text>
<text x="73.75" y="265.6" font-size="9.5">Case 1</text>
<text x="73.75" y="274.6" font-size="9.5">Case 2</text>
<text x="73.75" y="283.8" font-size="9.5">Case 3</text>
<text x="378.2" y="419.3" text-anchor="middle" font-size="9.5">0</text>
<text x="378.2" y="392.1" text-anchor="middle" font-size="9.5">200</text>
<text x="378.2" y="364.8" text-anchor="middle" font-size="9.5">400</text>
<text x="378.2" y="337.6" text-anchor="middle" font-size="9.5">600</text>
<text x="378.2" y="310.3" text-anchor="middle" font-size="9.5">800</text>
<text x="378.2" y="283.1" text-anchor="middle" font-size="9.5">1000</text>
<text x="449.7" y="429.0" text-anchor="middle" font-size="9.7">15th December</text>
<text x="540.9" y="429.0" text-anchor="middle" font-size="9.7">15th January</text>
<text x="640.9" y="429.0" text-anchor="middle" font-size="9.7">15th February</text>
<text transform="translate(356.3,346.5) rotate(-90)" text-anchor="middle" font-size="9.5">Daily average power output in</text>
<text transform="translate(368.1,346.5) rotate(-90)" text-anchor="middle" font-size="9.5">winter(MW)</text>
<text x="513.7" y="454.0" text-anchor="middle" font-size="16">(d)</text>
<text x="540.2" y="290.7" text-anchor="middle" font-size="6.5">0</text>
<text x="540.2" y="279.9" text-anchor="middle" font-size="6.5">250</text>
<text x="540.2" y="269.1" text-anchor="middle" font-size="6.5">500</text>
<text x="540.2" y="258.4" text-anchor="middle" font-size="6.5">750</text>
<text x="540.2" y="247.6" text-anchor="middle" font-size="6.5">1000</text>
<text x="577.5" y="293.8" text-anchor="middle" font-size="6.5">24</text>
<text x="606.1" y="293.8" text-anchor="middle" font-size="6.5">48</text>
<text x="634.7" y="293.8" text-anchor="middle" font-size="6.5">72</text>
<text x="590.6" y="298.6" text-anchor="middle" font-size="6.5">Hour(h)</text>
<text transform="translate(526.1,264.0) rotate(-90)" text-anchor="middle" font-size="6.4">Hourly power output</text>
<text transform="translate(532.8,264.0) rotate(-90)" text-anchor="middle" font-size="6.4">(MW)</text>
<text x="422" y="265.6" font-size="9.5">Case 1</text>
<text x="422" y="274.3" font-size="9.5">Case 2</text>
<text x="422" y="283.3" font-size="9.5">Case 3</text>
</g>
</svg></body></html>
